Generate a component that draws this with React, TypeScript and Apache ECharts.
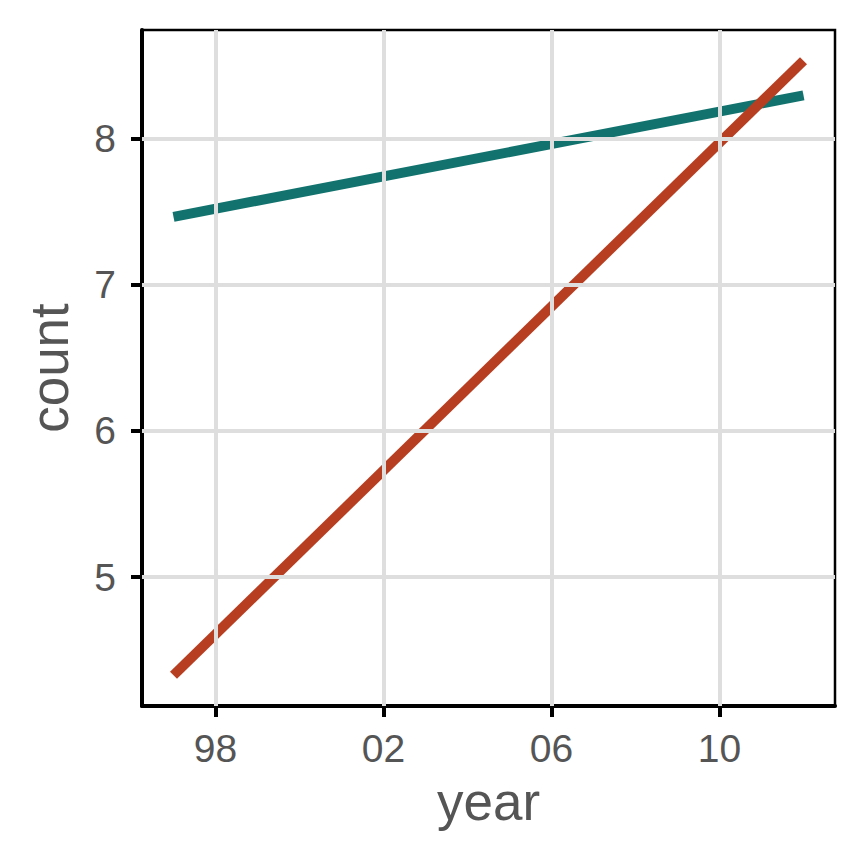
import React, { useEffect, useRef } from "react";
import * as echarts from "echarts";

const years = [1997, 2012];
const tealCounts = [7.463, 8.293];
const redCounts = [4.33, 8.53];
const xTicks = [1998, 2002, 2006, 2010];
const yTicks = [5, 6, 7, 8];

const FONT = "Liberation Sans, Helvetica, Arial, sans-serif";

export default function App() {
  const ref = useRef<HTMLDivElement>(null);
  useEffect(() => {
    if (!ref.current) return;
    const chart = echarts.init(ref.current, undefined, { renderer: "svg" });
    const gridColor = "#DEDEDE";
    chart.setOption({
      animation: false,
      backgroundColor: "#ffffff",
      grid: {
        left: 142,
        top: 30,
        right: 29,
        bottom: 158,
        show: true,
        borderColor: "#000000",
        borderWidth: 2.5,
        backgroundColor: "transparent",
      },
      xAxis: {
        type: "value",
        min: 1996.25,
        max: 2012.75,
        name: "year",
        nameLocation: "middle",
        nameGap: 69,
        nameTextStyle: { fontFamily: FONT, fontSize: 53, color: "#555555" },
        axisLine: { show: true, onZero: false, lineStyle: { color: "#000", width: 4 } },
        axisTick: {
          show: true,
          length: 11,
          customValues: xTicks,
          lineStyle: { color: "#000", width: 4 },
        },
        axisLabel: {
          customValues: xTicks,
          margin: 23,
          fontFamily: FONT,
          fontSize: 39,
          color: "#555555",
          formatter: (v: number) => String(v).slice(2),
        },
        splitLine: { show: false },
      },
      yAxis: {
        type: "value",
        min: 4.12,
        max: 8.74,
        name: "count",
        nameLocation: "middle",
        nameRotate: 90,
        nameGap: 66,
        nameTextStyle: { fontFamily: FONT, fontSize: 53, color: "#555555" },
        axisLine: { show: true, onZero: false, lineStyle: { color: "#000", width: 4 } },
        axisTick: {
          show: true,
          length: 11,
          customValues: yTicks,
          lineStyle: { color: "#000", width: 4 },
        },
        axisLabel: {
          customValues: yTicks,
          margin: 26,
          fontFamily: FONT,
          fontSize: 39,
          color: "#555555",
        },
        splitLine: { show: false },
      },
      series: [
        {
          type: "line",
          data: [],
          z: 1,
          silent: true,
          markLine: {
            silent: true,
            symbol: "none",
            label: { show: false },
            lineStyle: { color: gridColor, width: 4, type: "solid" },
            emphasis: { disabled: true },
            data: [
              ...xTicks.map((v) => ({ xAxis: v })),
              ...yTicks.map((v) => ({ yAxis: v })),
            ],
          },
        },
        {
          type: "line",
          z: 3,
          showSymbol: false,
          data: years.map((y, i) => [y, tealCounts[i]]),
          lineStyle: { color: "#12736E", width: 10, cap: "butt" },
          itemStyle: { color: "#12736E" },
        },
        {
          type: "line",
          z: 3,
          showSymbol: false,
          data: years.map((y, i) => [y, redCounts[i]]),
          lineStyle: { color: "#B73E20", width: 10, cap: "butt" },
          itemStyle: { color: "#B73E20" },
        },
      ],
    });
    return () => chart.dispose();
  }, []);
  return (
    <div
      ref={ref}
      style={{ position: "absolute", left: 0, top: 0, width: 864, height: 864 }}
    />
  );
}
